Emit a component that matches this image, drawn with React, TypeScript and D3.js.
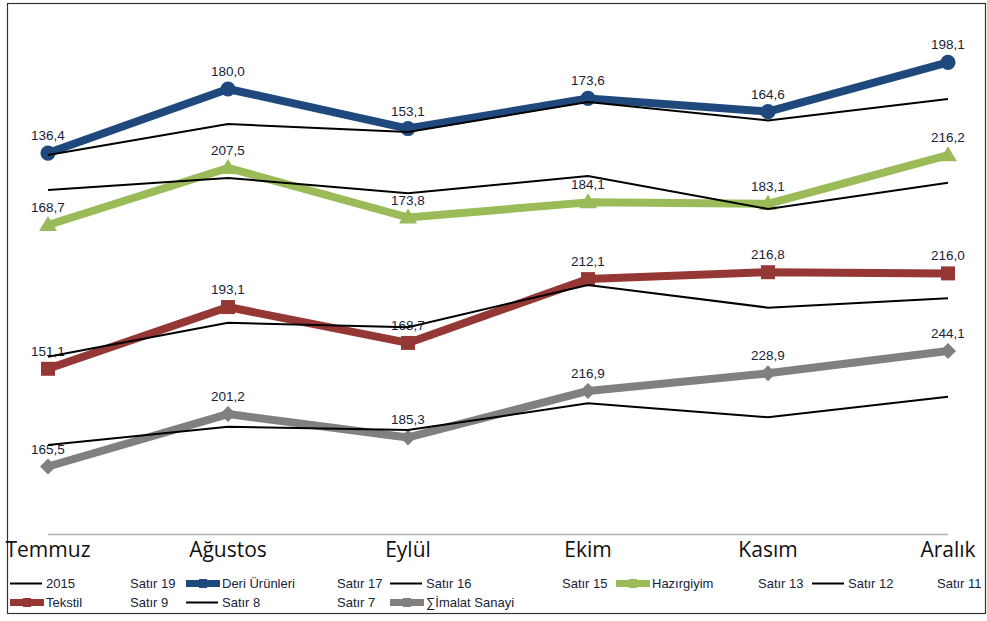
import React from "react";
import * as d3 from "d3";

const months = ["Temmuz", "Ağustos", "Eylül", "Ekim", "Kasım", "Aralık"];

// thick series (with value labels)
const deri = [136.4, 180.0, 153.1, 173.6, 164.6, 198.1];
const hazirgiyim = [168.7, 207.5, 173.8, 184.1, 183.1, 216.2];
const tekstil = [151.1, 193.1, 168.7, 212.1, 216.8, 216.0];
const imalat = [165.5, 201.2, 185.3, 216.9, 228.9, 244.1];

// thin black lines (2015)
const deri2015 = [135.1, 156.2, 150.7, 171.2, 158.6, 173.2];
const hazir2015 = [192.5, 200.7, 190.3, 202.0, 179.6, 197.5];
const tekstil2015 = [159.3, 182.4, 179.3, 208.1, 192.7, 199.0];
const imalat2015 = [180.1, 192.6, 190.3, 208.5, 199.0, 213.0];

// legend entries, row major, 10 columns
const legendNames = [
  "2015", "Satır 19", "Deri Ürünleri", "Satır 17", "Satır 16",
  "Satır 15", "Hazırgiyim", "Satır 13", "Satır 12", "Satır 11",
  "Tekstil", "Satır 9", "Satır 8", "Satır 7", "∑İmalat Sanayi",
];
const legendKinds = [
  "line", "none", "blue", "none", "line",
  "none", "green", "none", "line", "none",
  "red", "none", "line", "none", "gray",
];

const colors: any = { blue: "#1f497d", green: "#9bbb59", red: "#953735", gray: "#808080", line: "#000" };

// layout
const W = 987, H = 621;
const bases = [353.6, 473, 590.9, 709.8]; // pixel position of value 0 for each band
const pxPerUnit = 1.47;
const legendTextX = [46, 130, 222, 337, 426, 562, 652, 758, 848, 937];
const legendRowY = [588, 607];

const fmt = (v: number) => v.toFixed(1).replace(".", ",");

function marker(shape: string, x: number, y: number) {
  if (shape === "circle") return d3.symbol(d3.symbolCircle, 180)();
  if (shape === "square") return `M-7,-7H7V7H-7Z`;
  if (shape === "triangle") return `M0,-9L9,6H-9Z`;
  return `M0,-8L8,0L0,8L-8,0Z`;
}

export default function App() {
  const x = d3.scalePoint<string>().domain(months).range([48, 948]);
  const yBand = (i: number) =>
    d3.scaleLinear().domain([0, 100]).range([bases[i], bases[i] - 100 * pxPerUnit]);

  const thick = [
    { values: deri, color: colors.blue, shape: "circle" },
    { values: hazirgiyim, color: colors.green, shape: "triangle" },
    { values: tekstil, color: colors.red, shape: "square" },
    { values: imalat, color: colors.gray, shape: "diamond" },
  ];
  const thin = [deri2015, hazir2015, tekstil2015, imalat2015];

  return (
    <svg width={W} height={H} style={{ position: "absolute", left: 0, top: 0 }}
      fontFamily="'Liberation Sans', Arial, sans-serif">
      <rect x={0} y={0} width={W} height={H} fill="#fff" />
      <rect x={7.5} y={3.5} width={978} height={610} fill="none" stroke="#333" strokeWidth={1.2} />

      {/* category axis */}
      <line x1={48} x2={948} y1={534.5} y2={534.5} stroke="#b3b3b3" strokeWidth={1.5} />
      {months.map(m => (
        <text key={m} x={x(m)} y={557} textAnchor="middle" fontSize={21}
          fontFamily="'Open Sans', sans-serif" fill="#111">{m}</text>
      ))}

      {/* thick series */}
      {thick.map((s, i) => {
        const y = yBand(i);
        const line = d3.line<number>().x((_, j) => x(months[j])!).y(d => y(d));
        return (
          <g key={"s" + i}>
            <path d={line(s.values)!} fill="none" stroke={s.color} strokeWidth={8} strokeLinejoin="round" />
            {s.values.map((v, j) => (
              <path key={j} d={marker(s.shape, 0, 0)!} transform={`translate(${x(months[j])},${y(v)})`} fill={s.color} />
            ))}
          </g>
        );
      })}

      {/* value labels */}
      {thick.map((s, i) => {
        const y = yBand(i);
        return s.values.map((v, j) => (
          <text key={`l${i}-${j}`} x={x(months[j])} y={y(v) - 13} textAnchor="middle" fontSize={13.5} fill="#16233a">
            {fmt(v)}
          </text>
        ));
      })}

      {/* thin 2015 lines */}
      {thin.map((vals, i) => {
        const y = yBand(i);
        const line = d3.line<number>().x((_, j) => x(months[j])!).y(d => y(d));
        return <path key={"t" + i} d={line(vals)!} fill="none" stroke="#000" strokeWidth={2} />;
      })}

      {/* legend */}
      {legendNames.map((name, k) => {
        const row = Math.floor(k / 10), col = k % 10;
        const tx = legendTextX[col];
        const ty = legendRowY[row];
        const kind = legendKinds[k];
        const sx = tx - 36;
        return (
          <g key={"lg" + k}>
            {kind === "line" && <line x1={sx} x2={sx + 32} y1={ty - 4.5} y2={ty - 4.5} stroke="#000" strokeWidth={2} />}
            {kind !== "line" && kind !== "none" && (
              <g>
                <rect x={sx} y={ty - 8} width={34} height={7} fill={colors[kind]} />
                <rect x={sx + 13} y={ty - 9} width={8} height={9} fill={colors[kind]} />
              </g>
            )}
            <text x={tx} y={ty} fontSize={13} fill="#16233a">{name}</text>
          </g>
        );
      })}
    </svg>
  );
}
